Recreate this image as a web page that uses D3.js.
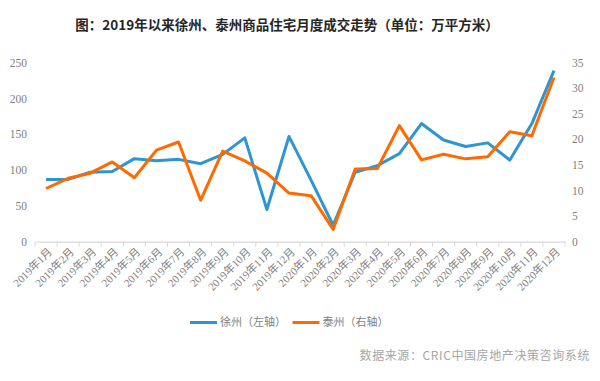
<!DOCTYPE html>
<html><head><meta charset="utf-8">
<script src="https://cdn.jsdelivr.net/npm/d3@7"></script>
<style>
body{margin:0;background:#fff;}
svg{display:block;}
</style></head>
<body><svg id="c" width="600" height="381"></svg>
<script>
const categories = ["2019年1月","2019年2月","2019年3月","2019年4月","2019年5月","2019年6月","2019年7月","2019年8月","2019年9月","2019年10月","2019年11月","2019年12月","2020年1月","2020年2月","2020年3月","2020年4月","2020年5月","2020年6月","2020年7月","2020年8月","2020年9月","2020年10月","2020年11月","2020年12月"];
const xuzhou = [87,87,97,98,116,113,115,109,122,145,45,147,86,23,97,106,123,165,142,133,138,114,165,239];
const taizhou = [10.4,12.4,13.4,15.6,12.5,17.9,19.5,8.1,17.7,15.8,13.4,9.5,9.0,2.4,14.2,14.3,22.7,16.0,17.1,16.2,16.6,21.5,20.7,32.1];
const leftTicks = [0,50,100,150,200,250];
const rightTicks = [0,5,10,15,20,25,30,35];
const seriesNames = ["徐州（左轴）","泰州（右轴）"];
const colors = ["#2E95D3","#FF6A00"];
const title = "图：2019年以来徐州、泰州商品住宅月度成交走势（单位：万平方米）";
const source = "数据来源：CRIC中国房地产决策咨询系统";

(function(){
const svg = d3.select("#c");
const pL = 35, pR = 565, pT = 62.7, pB = 241.7;
const x = d3.scaleBand().domain(categories).range([pL, pR]).padding(0);
const yL = d3.scaleLinear().domain([0,250]).range([pB, pT]);
const yR = d3.scaleLinear().domain([0,35]).range([pB, pT]);
const axisFont = "'Liberation Serif','Noto Sans CJK SC',serif";
const cjk = "'Noto Sans CJK SC','Noto Sans',sans-serif";

// title
svg.append("text").attr("x", 287).attr("y", 30).attr("text-anchor","middle")
  .attr("font-family", cjk).attr("font-size", 13.5).attr("font-weight","bold").attr("fill","#262626")
  .text(title);

// left axis labels
svg.append("g").selectAll("text").data(leftTicks).join("text")
  .attr("x", 27).attr("y", d => yL(d)).attr("dy","0.35em").attr("text-anchor","end")
  .attr("font-family", axisFont).attr("font-size", 11.5).attr("fill","#7f7f7f").text(d => d);
// right axis labels
svg.append("g").selectAll("text").data(rightTicks).join("text")
  .attr("x", 572).attr("y", d => yR(d)).attr("dy","0.35em").attr("text-anchor","start")
  .attr("font-family", axisFont).attr("font-size", 11.5).attr("fill","#7f7f7f").text(d => d);

// x axis
const xg = svg.append("g").attr("transform", `translate(0,${pB})`);
const xAxis = d3.axisBottom(x).tickSize(0).tickFormat("");
xg.call(xAxis);
xg.select(".domain").attr("stroke","#d9d9d9").attr("stroke-width",1.2);
const bounds = categories.map(c => x(c)).concat([x(categories[categories.length-1]) + x.bandwidth()]);
xg.selectAll("line.tk").data(bounds).join("line").attr("class","tk")
  .attr("x1", d => d).attr("x2", d => d).attr("y1", 0).attr("y2", 5)
  .attr("stroke","#d9d9d9").attr("stroke-width",1);
svg.append("g").selectAll("text").data(categories).join("text")
  .attr("transform", d => `translate(${x(d)+x.bandwidth()/2+4},${pB+8}) rotate(-45)`)
  .attr("text-anchor","end").attr("dy","0.35em")
  .attr("font-family", axisFont).attr("font-size", 11).attr("fill","#7f7f7f").text(d => d);

// lines
const cx = d => x(d) + x.bandwidth()/2;
const lineL = d3.line().x((d,i) => cx(categories[i])).y(d => yL(d));
const lineR = d3.line().x((d,i) => cx(categories[i])).y(d => yR(d));
svg.append("path").datum(xuzhou).attr("d", lineL).attr("fill","none")
  .attr("stroke", colors[0]).attr("stroke-width", 3).attr("stroke-linejoin","round");
svg.append("path").datum(taizhou).attr("d", lineR).attr("fill","none")
  .attr("stroke", colors[1]).attr("stroke-width", 3).attr("stroke-linejoin","round");

// legend
const lg = svg.append("g");
const items = [{x:190, c:colors[0], t:seriesNames[0]},{x:292.5, c:colors[1], t:seriesNames[1]}];
items.forEach(it => {
  lg.append("line").attr("x1", it.x).attr("x2", it.x+27).attr("y1", 322.5).attr("y2", 322.5)
    .attr("stroke", it.c).attr("stroke-width", 3);
  lg.append("text").attr("x", it.x+30).attr("y", 322.5).attr("dy","0.35em")
    .attr("font-family", cjk).attr("font-size", 11).attr("fill","#7f7f7f").text(it.t);
});

// source
svg.append("text").attr("x", 590).attr("y", 356).attr("dy","0.35em").attr("text-anchor","end")
  .attr("font-family", cjk).attr("font-size", 12).attr("letter-spacing", 0.6).attr("fill","#a6a6a6")
  .text(source);
})();
</script></body></html>
